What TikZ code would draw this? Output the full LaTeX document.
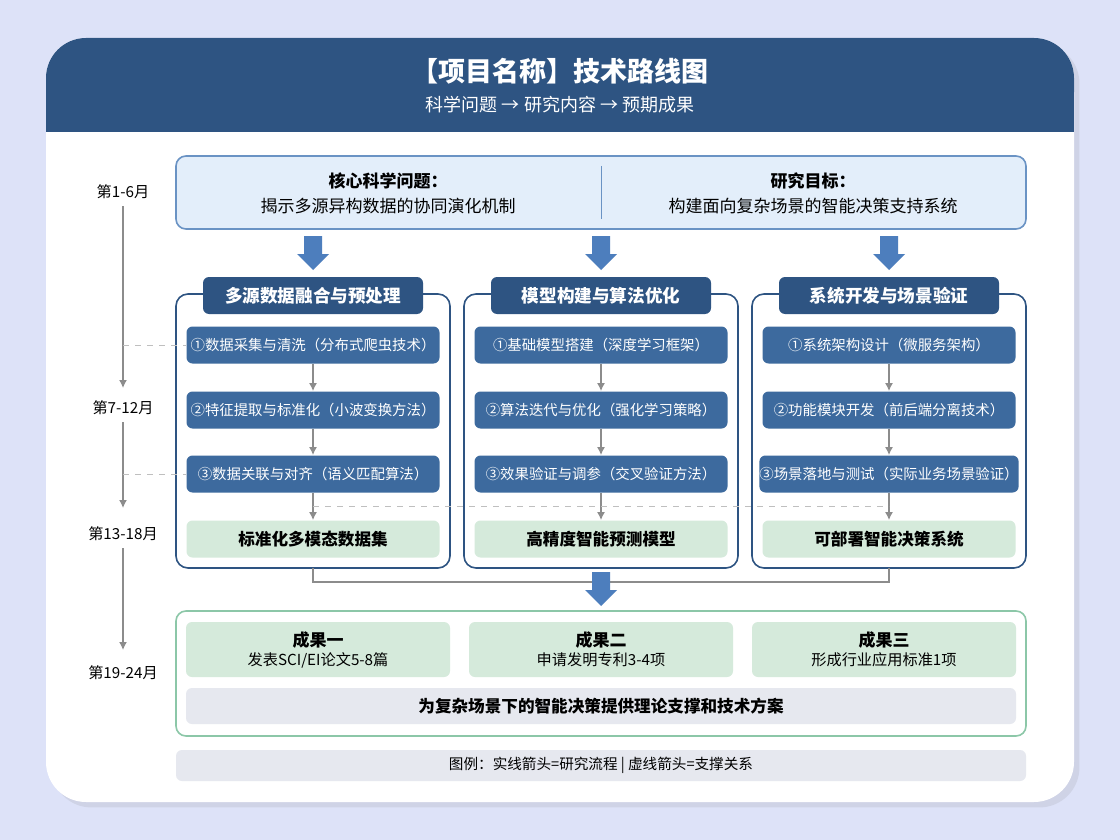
\documentclass[tikz,border=0pt]{standalone}
\usepackage{fontspec}
\setmainfont{Noto Sans CJK SC}
\usetikzlibrary{positioning}
\usetikzlibrary{arrows.meta}
\usetikzlibrary{shadows}
\definecolor{hdblue}{HTML}{2E5482}
\definecolor{stepblue}{HTML}{3D6A9E}
\definecolor{arrblue}{HTML}{4D7EBD}
\definecolor{topfill}{HTML}{E3EEFA}
\definecolor{topline}{HTML}{6A93C4}
\definecolor{resgreen}{HTML}{D5EADB}
\definecolor{outgreen}{HTML}{8CC7A8}
\definecolor{barfill}{HTML}{E6E8EF}
\definecolor{bgcol}{HTML}{DDE2F8}
\tikzset{
  stepbox/.style={draw=none, fill=stepblue, rounded corners=3pt, minimum width=126.5pt, minimum height=18.5pt, text=white, font=\fontsize{7.2}{8}\selectfont, inner sep=0pt},
  resbox/.style={fill=resgreen, rounded corners=3pt, minimum width=126.5pt, minimum height=18.5pt, font=\fontsize{8.3}{9}\selectfont\bfseries, inner sep=0pt},
  tab/.style={fill=hdblue, rounded corners=3pt, minimum width=110pt, minimum height=18.5pt, text=white, font=\fontsize{8.8}{9}\selectfont\bfseries, inner sep=0pt},
  col/.style={draw=hdblue, line width=0.8pt, rounded corners=6pt, fill=white},
  flow/.style={-{Latex[length=4pt,width=4pt]}, draw=gray!90, line width=0.7pt},
  support/.style={dashed, draw=gray!50, line width=0.5pt},
  bigarrow/.style={fill=arrblue, draw=none},
  month/.style={font=\fontsize{7.6}{8}\selectfont},
  outres/.style={fill=resgreen, rounded corners=3pt, minimum width=132pt, minimum height=27.5pt, inner sep=0pt, align=center, font=\fontsize{7.6}{9.5}\selectfont},
}
\newcommand{\bigdown}[2]{\fill[bigarrow] (#1-9,#2) -- (#1+9,#2) -- (#1+9,#2+18) -- (#1+16,#2+18) -- (#1,#2+34) -- (#1-16,#2+18) -- (#1-9,#2+18) -- cycle;}
\begin{document}
\begin{tikzpicture}[x=0.5pt,y=-0.5pt]
\useasboundingbox (0,0) rectangle (1120,840);
\fill[bgcol] (0,0) rectangle (1120,840);

%%%%%%%%%% Card and header %%%%%%%%%%
\fill[white, rounded corners=20pt, drop shadow={opacity=0.15}] (46,38) rectangle (1074,802);
\fill[hdblue, rounded corners=20pt] (46,38) rectangle (1074,132);
\fill[hdblue] (46,90) rectangle (1074,132);
\node[text=white, font=\fontsize{13.5}{14}\selectfont\bfseries] (title) at (560,71) {【项目名称】技术路线图};
\node[text=white, font=\fontsize{9}{10}\selectfont] (subtitle) at (560,105) {科学问题 → 研究内容 → 预期成果};

%%%%%%%%%% Top box %%%%%%%%%%
\node[draw=topline, fill=topfill, line width=0.8pt, rounded corners=5pt, minimum width=425pt, minimum height=36.5pt] (top) at (601,192.5) {};
\draw[topline, line width=0.5pt] (601,166) -- (601,219);
\node[font=\fontsize{8.5}{9}\selectfont\bfseries] (qhead) at (388,181) {核心科学问题：};
\node[font=\fontsize{8.5}{9}\selectfont] (qtext) at (388,206) {揭示多源异构数据的协同演化机制};
\node[font=\fontsize{8.5}{9}\selectfont\bfseries] (ghead) at (813,181) {研究目标：};
\node[font=\fontsize{8.5}{9}\selectfont] (gtext) at (813,206) {构建面向复杂场景的智能决策支持系统};

\bigdown{313}{236}
\bigdown{601}{236}
\bigdown{889}{236}

%%%%%%%%%% Columns %%%%%%%%%%
\foreach \cx in {313, 601, 889}{
  \draw[col] (\cx-137,294) rectangle (\cx+137,568);
}
\node[tab] (tab-a) at (313,295.5) {多源数据融合与预处理};
\node[tab] (tab-b) at (601,295.5) {模型构建与算法优化};
\node[tab] (tab-c) at (889,295.5) {系统开发与场景验证};

\node[stepbox] (a1) at (313,345) {①数据采集与清洗（分布式爬虫技术）};
\node[stepbox] (a2) at (313,410) {②特征提取与标准化（小波变换方法）};
\node[stepbox] (a3) at (313,474) {③数据关联与对齐（语义匹配算法）};
\node[resbox]  (a4) at (313,539) {标准化多模态数据集};

\node[stepbox] (b1) at (601,345) {①基础模型搭建（深度学习框架）};
\node[stepbox] (b2) at (601,410) {②算法迭代与优化（强化学习策略）};
\node[stepbox] (b3) at (601,474) {③效果验证与调参（交叉验证方法）};
\node[resbox]  (b4) at (601,539) {高精度智能预测模型};

\node[stepbox] (c1) at (889,345) {①系统架构设计（微服务架构）};
\node[stepbox] (c2) at (889,410) {②功能模块开发（前后端分离技术）};
\node[stepbox] (c3) at (889,474) {③场景落地与测试（实际业务场景验证）};
\node[resbox]  (c4) at (889,539) {可部署智能决策系统};

\foreach \n in {a,b,c}{
  \draw[flow] (\n1) -- (\n2);
  \draw[flow] (\n2) -- (\n3);
  \draw[flow] (\n3) -- (\n4);
}

%%%%%%%%%% Merge to outcomes %%%%%%%%%%
\coordinate (ma) at (313,568);
\coordinate (mc) at (889,568);
\draw[gray!90, line width=0.7pt] (ma) -- ++(0,14) -| (mc);
\bigdown{601}{572}

\node[draw=outgreen, line width=0.8pt, rounded corners=5pt, minimum width=425pt, minimum height=62.5pt] (out) at (601,673.5) {};
\node[outres] (o1) at (318,649.5) {\textbf{\fontsize{8.5}{9.5}\selectfont 成果一}\\发表SCI/EI论文5-8篇};
\node[outres] (o2) at (601,649.5) {\textbf{\fontsize{8.5}{9.5}\selectfont 成果二}\\申请发明专利3-4项};
\node[outres] (o3) at (884,649.5) {\textbf{\fontsize{8.5}{9.5}\selectfont 成果三}\\形成行业应用标准1项};
\node[fill=barfill, rounded corners=3pt, minimum width=415pt, minimum height=18pt, inner sep=0pt, font=\fontsize{8.3}{9}\selectfont\bfseries] (sum) at (601,706) {为复杂场景下的智能决策提供理论支撑和技术方案};

%%%%%%%%%% Legend %%%%%%%%%%
\node[fill=barfill, rounded corners=3pt, minimum width=425pt, minimum height=15.5pt, inner sep=0pt, font=\fontsize{7.3}{8}\selectfont] (legend) at (601,765.5) {图例：实线箭头=研究流程 | 虚线箭头=支撑关系};

%%%%%%%%%% Timeline %%%%%%%%%%
\node[month] (t1) at (123,192) {第1-6月};
\node[month] (t2) at (123,408) {第7-12月};
\node[month] (t3) at (123,534) {第13-18月};
\node[month] (t4) at (123,673) {第19-24月};
\draw[flow] (t1) -- (123,388);
\draw[flow] (t2) -- (123,508);
\draw[flow] (t3) -- (123,650);

\coordinate (d1) at (123,345);
\coordinate (d3) at (123,474);
\draw[support] (d1) -- (a1.west);
\draw[support] (d3) -- (a3.west);
\coordinate (sa) at (313,506);
\coordinate (sc) at (889,506);
\draw[support] (sa) -- (sc);
\end{tikzpicture}
\end{document}
